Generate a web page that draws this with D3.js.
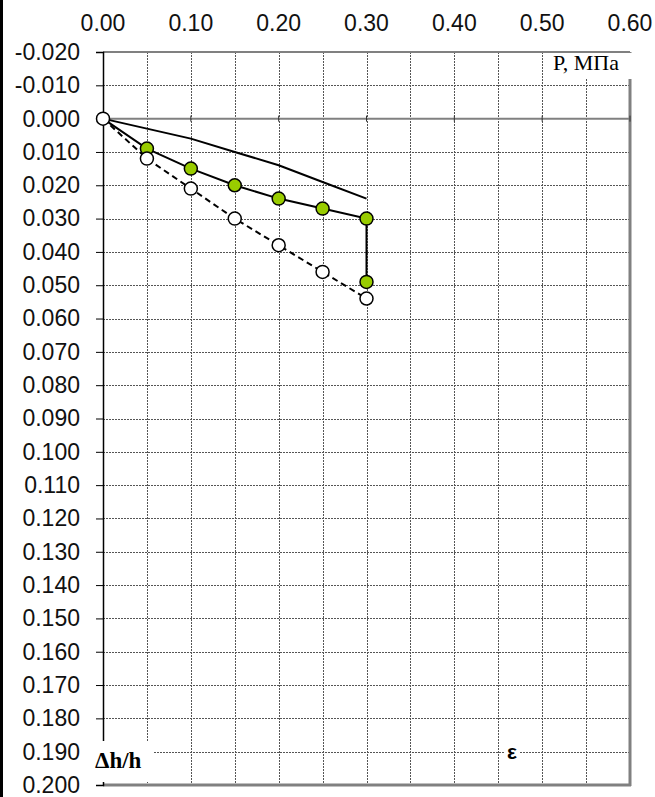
<!DOCTYPE html>
<html>
<head>
<meta charset="utf-8">
<script src="https://d3js.org/d3.v7.min.js"></script>
<style>
  body { margin: 0; background: #fff; }
  svg { display: block; }
  .tick-label { font-family: "Liberation Sans", Arial, sans-serif; font-size: 23px; font-weight: 400; fill: #111; }
</style>
</head>
<body>
<div id="chart"></div>
<script>
// data (P, MPa -> Δh/h)
const pressure = [0, 0.05, 0.10, 0.15, 0.20, 0.25, 0.30];
const curveLine = [0, 0.003, 0.006, 0.010, 0.014, 0.019, 0.024];
const greenP = [0, 0.05, 0.10, 0.15, 0.20, 0.25, 0.30, 0.30];
const greenValues = [0, 0.009, 0.015, 0.020, 0.024, 0.027, 0.030, 0.049];
const whiteValues = [0, 0.012, 0.021, 0.030, 0.038, 0.046, 0.054];
const xTicks = [0, 0.1, 0.2, 0.3, 0.4, 0.5, 0.6];
const yTicks = d3.range(-0.02, 0.2001, 0.01);

const width = 655;
const height = 797;
const plotLeft = 103;
const plotRight = 630;
const plotTop = 52;
const plotBottom = 785;

const svg = d3.select('#chart')
  .append('svg')
  .attr('width', width)
  .attr('height', height);

// black strip on the left edge
svg.append('rect')
  .attr('x', 0).attr('y', 0)
  .attr('width', 3).attr('height', height)
  .attr('fill', '#000');

const x = d3.scaleLinear().domain([0, 0.6]).range([plotLeft, plotRight]);
const y = d3.scaleLinear().domain([-0.02, 0.2]).range([plotTop, plotBottom]);

// grid
const grid = svg.append('g');
grid.selectAll('.vgrid')
  .data(d3.range(0.05, 0.5501, 0.05))
  .enter()
  .append('line')
  .attr('x1', (d) => Math.round(x(d)) + 0.5)
  .attr('x2', (d) => Math.round(x(d)) + 0.5)
  .attr('y1', plotTop)
  .attr('y2', plotBottom)
  .attr('stroke', '#555')
  .attr('stroke-width', 1)
  .attr('stroke-dasharray', '2,1');
grid.selectAll('.hgrid')
  .data(yTicks.filter((d) => Math.abs(d) > 1e-9))
  .enter()
  .append('line')
  .attr('x1', plotLeft)
  .attr('x2', plotRight)
  .attr('y1', (d) => Math.round(y(d)) + 0.5)
  .attr('y2', (d) => Math.round(y(d)) + 0.5)
  .attr('stroke', '#555')
  .attr('stroke-width', 1)
  .attr('stroke-dasharray', '2,1');

// plot area border
svg.append('line')
  .attr('x1', plotLeft).attr('x2', plotRight)
  .attr('y1', plotTop).attr('y2', plotTop)
  .attr('stroke', '#808080').attr('stroke-width', 2);
svg.append('line')
  .attr('x1', plotRight).attr('x2', plotRight)
  .attr('y1', plotTop).attr('y2', plotBottom + 1)
  .attr('stroke', '#808080').attr('stroke-width', 3);
svg.append('line')
  .attr('x1', plotLeft).attr('x2', plotRight + 1)
  .attr('y1', plotBottom).attr('y2', plotBottom)
  .attr('stroke', '#808080').attr('stroke-width', 3);

// x axis sits on zero line, labels on top
svg.append('line')
  .attr('x1', plotLeft).attr('x2', plotRight)
  .attr('y1', y(0)).attr('y2', y(0))
  .attr('stroke', '#808080').attr('stroke-width', 2);
svg.append('g')
  .selectAll('line')
  .data(xTicks)
  .enter()
  .append('line')
  .attr('x1', (d) => x(d)).attr('x2', (d) => x(d))
  .attr('y1', y(0) - 3).attr('y2', y(0) + 3)
  .attr('stroke', '#333').attr('stroke-width', 1);
svg.append('g')
  .selectAll('text')
  .data(xTicks)
  .enter()
  .append('text')
  .attr('class', 'tick-label')
  .attr('x', (d) => x(d))
  .attr('y', 31)
  .attr('text-anchor', 'middle')
  .text((d) => d.toFixed(2));

// y axis
const yAxis = d3.axisLeft(y)
  .tickValues(yTicks)
  .tickSize(7)
  .tickPadding(16)
  .tickFormat((d) => d3.format('.3f')(d).replace('−', '-'));
const yAxisG = svg.append('g')
  .attr('transform', `translate(${plotLeft},0)`)
  .call(yAxis);
yAxisG.select('.domain').attr('stroke', '#000').attr('stroke-width', 1.5);
yAxisG.selectAll('.tick line').attr('stroke', '#000');
yAxisG.attr('font-size', null).attr('font-family', null);
yAxisG.selectAll('.tick text')
  .attr('class', 'tick-label')
  .attr('fill', '#111')
  .attr('x', -23);

// lines
const line = d3.line().x((d) => x(d[0])).y((d) => y(d[1]));
const series1 = pressure.map((p, i) => [p, curveLine[i]]);
const series2 = greenP.map((p, i) => [p, greenValues[i]]);
const series3 = pressure.map((p, i) => [p, whiteValues[i]]);

svg.append('path')
  .attr('d', line(series1))
  .attr('fill', 'none')
  .attr('stroke', '#000')
  .attr('stroke-width', 2);
svg.append('path')
  .attr('d', line(series2))
  .attr('fill', 'none')
  .attr('stroke', '#000')
  .attr('stroke-width', 2);
svg.append('path')
  .attr('d', line(series3))
  .attr('fill', 'none')
  .attr('stroke', '#000')
  .attr('stroke-width', 2)
  .attr('stroke-dasharray', '6,4');

svg.append('g')
  .selectAll('circle')
  .data(series2.slice(1))
  .enter()
  .append('circle')
  .attr('cx', (d) => x(d[0]))
  .attr('cy', (d) => y(d[1]))
  .attr('r', 6.5)
  .attr('fill', '#99cc00')
  .attr('stroke', '#000')
  .attr('stroke-width', 1.5);
svg.append('g')
  .selectAll('circle')
  .data(series3)
  .enter()
  .append('circle')
  .attr('cx', (d) => x(d[0]))
  .attr('cy', (d) => y(d[1]))
  .attr('r', 6.5)
  .attr('fill', '#fff')
  .attr('stroke', '#000')
  .attr('stroke-width', 1.5);

// axis titles with white boxes
svg.append('rect')
  .attr('x', 546).attr('y', 53)
  .attr('width', 86).attr('height', 26)
  .attr('fill', '#fff');
svg.append('text')
  .attr('x', 553).attr('y', 70)
  .attr('font-family', '"Liberation Serif", "Times New Roman", serif')
  .attr('font-size', 22)
  .text('P, МПа');

svg.append('rect')
  .attr('x', 93).attr('y', 741)
  .attr('width', 61).attr('height', 41)
  .attr('fill', '#fff');
svg.append('text')
  .attr('x', 95).attr('y', 768)
  .attr('font-family', '"Liberation Serif", "Times New Roman", serif')
  .attr('font-size', 23)
  .attr('font-weight', 'bold')
  .text('Δh/h');

svg.append('rect')
  .attr('x', 504).attr('y', 742)
  .attr('width', 16).attr('height', 20)
  .attr('fill', '#fff');
svg.append('text')
  .attr('x', 512).attr('y', 759)
  .attr('text-anchor', 'middle')
  .attr('font-family', '"Liberation Sans", Arial, sans-serif')
  .attr('font-size', 21)
  .attr('font-weight', 'bold')
  .text('ε');
</script>
</body>
</html>
